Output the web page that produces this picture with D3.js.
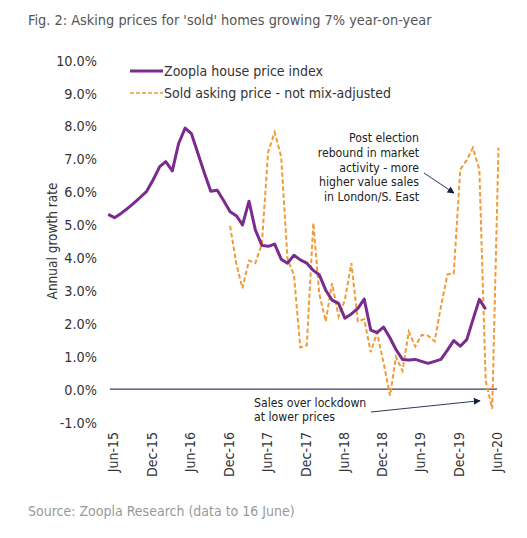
<!DOCTYPE html>
<html lang="en">
  <head>
    <meta charset="UTF-8" />
    <title>Fig. 2</title>
    <script src="https://cdn.jsdelivr.net/npm/d3@7"></script>
    <style>
      body { margin: 0; background: #fff; }
      .chart text { font-family: "DejaVu Sans Condensed", "DejaVu Sans", sans-serif; font-stretch: condensed; fill: #333; }
      .title, .source { font-family: "Open Sans", sans-serif; }
    </style>
  </head>
  <body>
    <script>
      // months from Jun-15; purple starts Jun-15, orange starts Jan-17
      const months = d3.timeMonth.range(new Date(2015, 5, 1), new Date(2020, 7, 1));

      const zooplaIndex = [5.30, 5.20, 5.33, 5.48, 5.64, 5.82, 6.00, 6.35, 6.75, 6.90,
        6.62, 7.45, 7.92, 7.75, 7.15, 6.55, 6.00, 6.03, 5.72, 5.38,
        5.25, 4.98, 5.70, 4.83, 4.36, 4.33, 4.40, 3.94, 3.82, 4.06,
        3.92, 3.82, 3.60, 3.47, 3.00, 2.70, 2.60, 2.15, 2.28, 2.45,
        2.73, 1.79, 1.71, 1.88, 1.55, 1.20, 0.90, 0.88, 0.90, 0.84,
        0.78, 0.84, 0.90, 1.18, 1.47, 1.30, 1.50, 2.10, 2.72, 2.42];

      const soldStart = 19;
      const soldAsking = [4.95, 3.75, 3.06, 3.90, 3.82, 4.40, 7.20, 7.79, 7.05, 3.95,
        3.45, 1.26, 1.33, 5.04, 2.90, 2.05, 3.21, 2.20, 2.70, 3.82,
        2.05, 2.12, 1.12, 1.72, 0.80, -0.20, 0.98, 0.55, 1.74, 1.29,
        1.64, 1.62, 1.45, 2.50, 3.48, 3.50, 6.66, 6.95, 7.32, 6.66,
        0.25, -0.60, 7.32];

      const yTicks = [-1, 0, 1, 2, 3, 4, 5, 6, 7, 8, 9, 10];
      const xTicks = ["2015-06", "2015-12", "2016-06", "2016-12", "2017-06", "2017-12",
        "2018-06", "2018-12", "2019-06", "2019-12", "2020-06"];

      const seriesNames = ["Zoopla house price index", "Sold asking price - not mix-adjusted"];
      const noteElection = ["Post election", "rebound in market", "activity - more",
        "higher value sales", "in London/S. East"];
      const noteLockdown = ["Sales over lockdown", "at lower prices"];

      const width = 527, height = 538;
      const purple = "#7a2b8c", orange = "#f39a36", navy = "#2b3a58";

      const svg = d3.select("body").append("svg")
        .attr("width", width)
        .attr("height", height)
        .attr("class", "chart");

      svg.append("defs").append("marker")
        .attr("id", "arrow")
        .attr("viewBox", "0 0 10 10")
        .attr("refX", 9).attr("refY", 5)
        .attr("markerWidth", 7).attr("markerHeight", 7)
        .attr("orient", "auto")
        .append("path")
        .attr("d", "M0,0L10,5L0,10z")
        .attr("fill", "#14213d");

      let x = d3.scaleTime()
        .domain([new Date(2015, 5, 1), new Date(2020, 5, 1)])
        .range([108.2, 492.2]);

      let y = d3.scaleLinear()
        .domain([-1, 10])
        .range([422, 59.5]);

      svg.append("text")
        .attr("class", "title")
        .attr("x", 28).attr("y", 25)
        .style("font-size", "14.4px")
        .style("fill", "#555")
        .text("Fig. 2: Asking prices for 'sold' homes growing 7% year-on-year");

      // y axis labels only
      let yAxis = svg.append("g")
        .attr("transform", "translate(97,1)")
        .call(d3.axisLeft(y).tickValues(yTicks).tickSize(0).tickPadding(0)
          .tickFormat(d => d.toFixed(1) + "%"));
      yAxis.select(".domain").remove();
      yAxis.attr("font-family", null).attr("font-size", null);
      yAxis.selectAll("text")
        .style("font-size", "14.3px")
        .attr("fill", "#333");

      svg.append("text")
        .attr("transform", "translate(52,241) rotate(-90)")
        .attr("text-anchor", "middle")
        .attr("dy", "0.35em")
        .style("font-size", "13.5px")
        .text("Annual growth rate");

      // x axis labels, rotated
      let xAxis = svg.append("g")
        .attr("transform", "translate(4.8,432)")
        .call(d3.axisBottom(x).tickValues(xTicks.map(d => d3.timeParse("%Y-%m")(d)))
          .tickSize(0).tickFormat(d3.timeFormat("%b-%y")));
      xAxis.select(".domain").remove();
      xAxis.attr("font-family", null).attr("font-size", null);
      xAxis.selectAll("text")
        .attr("transform", "rotate(-90)")
        .attr("text-anchor", "end")
        .attr("x", 0).attr("y", 0)
        .attr("dy", "0.35em")
        .style("font-size", "14px")
        .attr("fill", "#333");

      // zero line
      svg.append("line")
        .attr("x1", 110).attr("x2", 497)
        .attr("y1", y(0)).attr("y2", y(0))
        .attr("stroke", "#3e3868")
        .attr("stroke-width", 1.3);

      let line = d3.line()
        .x(d => x(d[0]))
        .y(d => y(d[1]));

      svg.append("path")
        .datum(soldAsking.map((v, i) => [months[soldStart + i], v]))
        .attr("d", line)
        .attr("fill", "none")
        .attr("stroke", orange)
        .attr("stroke-width", 2)
        .attr("stroke-dasharray", "4.5,2.5");

      svg.append("path")
        .datum(zooplaIndex.map((v, i) => [months[i], v]))
        .attr("d", line)
        .attr("fill", "none")
        .attr("stroke", purple)
        .attr("stroke-width", 3)
        .attr("stroke-linejoin", "round");

      // legend
      let legend = svg.append("g");
      legend.append("line")
        .attr("x1", 130).attr("x2", 163).attr("y1", 71).attr("y2", 71)
        .attr("stroke", purple).attr("stroke-width", 3);
      legend.append("line")
        .attr("x1", 130).attr("x2", 163).attr("y1", 93).attr("y2", 93)
        .attr("stroke", orange).attr("stroke-width", 1.6).attr("stroke-dasharray", "4,2");
      legend.selectAll(".lbl")
        .data(seriesNames)
        .enter().append("text")
        .attr("x", 164)
        .attr("y", (d, i) => 71 + i * 22)
        .attr("dy", "0.35em")
        .style("font-size", "14px")
        .text(d => d);

      // annotations
      svg.append("g").selectAll("text")
        .data(noteElection)
        .enter().append("text")
        .attr("x", 419)
        .attr("y", (d, i) => 138 + i * 14.7)
        .attr("dy", "0.35em")
        .attr("text-anchor", "end")
        .style("font-size", "12.2px")
        .style("fill", "#222")
        .text(d => d);

      svg.append("line")
        .attr("x1", 424).attr("y1", 173).attr("x2", 454).attr("y2", 193)
        .attr("stroke", navy).attr("stroke-width", 1)
        .attr("marker-end", "url(#arrow)");

      svg.append("g").selectAll("text")
        .data(noteLockdown)
        .enter().append("text")
        .attr("x", 254)
        .attr("y", (d, i) => 403 + i * 14)
        .attr("dy", "0.35em")
        .style("font-size", "12.2px")
        .style("fill", "#222")
        .text(d => d);

      svg.append("line")
        .attr("x1", 371).attr("y1", 412).attr("x2", 480).attr("y2", 400.7)
        .attr("stroke", navy).attr("stroke-width", 1)
        .attr("marker-end", "url(#arrow)");

      svg.append("text")
        .attr("class", "source")
        .attr("x", 28).attr("y", 516)
        .style("font-size", "14px")
        .style("fill", "#999")
        .text("Source: Zoopla Research (data to 16 June)");
    </script>
  </body>
</html>
